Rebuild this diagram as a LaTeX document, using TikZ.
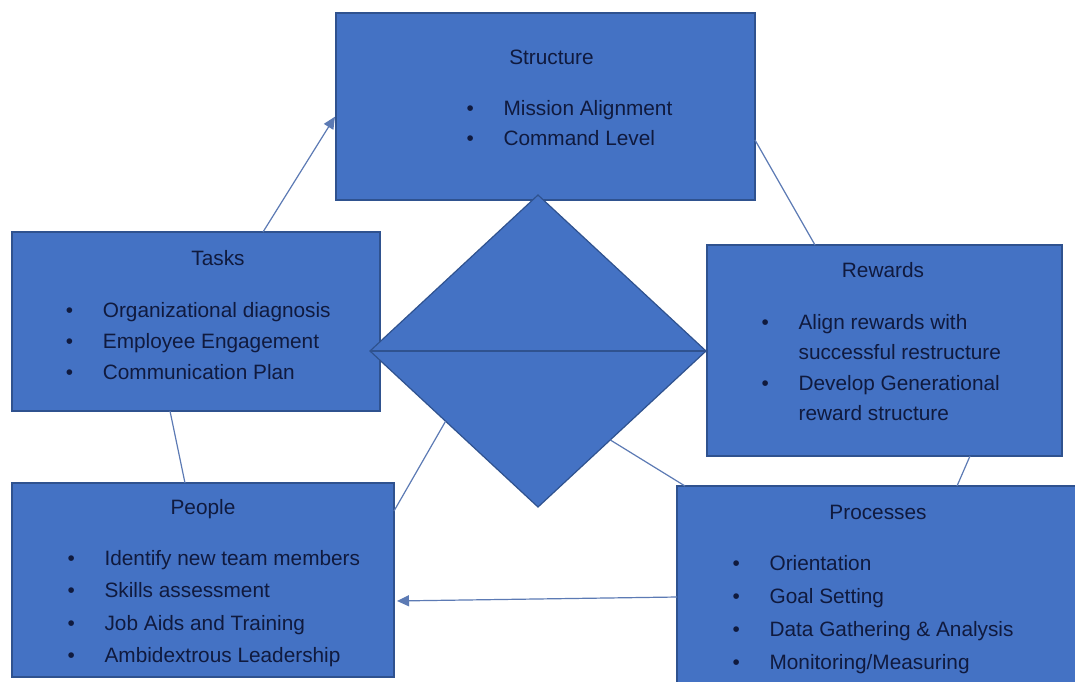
\documentclass[tikz,border=0pt]{standalone}
\usepackage{fontspec}
\setmainfont{Liberation Sans}
\usetikzlibrary{shapes.geometric, calc, arrows.meta}
\definecolor{boxfill}{RGB}{68, 114, 196}
\definecolor{boxedge}{RGB}{47, 82, 143}
\definecolor{inktext}{RGB}{16, 26, 62}
\definecolor{linkline}{RGB}{92, 122, 180}
\newcommand{\itembul}{\makebox[37pt][l]{\textbullet}}
\newcommand{\itemind}{\hspace*{37pt}}

\begin{document}
\begin{tikzpicture}[
	x=1pt, y=-1pt,
	>=Stealth,
	% Styles for the blocks, their texts and the links
	block/.style={draw=boxedge, line width=1.2pt, fill=boxfill, inner sep=0pt, outer sep=0pt},
	headtext/.style={text=inktext, font=\fontsize{20.8pt}{25pt}\selectfont, inner sep=0pt, anchor=base},
	itemtext/.style={text=inktext, font=\fontsize{20.8pt}{#1}\selectfont, inner sep=0pt, anchor=north west, align=left},
	itemtext/.default=31pt,
	link/.style={draw=linkline, line width=1.2pt},
	linkarrow/.style={link, -{Triangle[length=12pt, width=11pt]}}
	]
	
	% Canvas: 1075 x 1075 px, y grows downwards
	\useasboundingbox (0,0) rectangle (1075,681);
	\fill[white] (0,0) rectangle (1075,681);
	\clip (0,0) rectangle (1075,681);
	
	% ==========================================
	% 1. BLOCKS
	% ==========================================
	\node[block, minimum width=419pt, minimum height=187pt] (struct) at (545.5,106.5) {};
	\node[block, minimum width=368pt, minimum height=179pt] (tasks) at (196,321.5) {};
	\node[block, minimum width=355pt, minimum height=211pt] (rewards) at (884.5,350.5) {};
	\node[block, minimum width=382pt, minimum height=194pt] (people) at (203,580) {};
	% Processes runs off the right and bottom edges
	\node[block, minimum width=408pt, minimum height=214pt] (process) at (881,593) {};
	
	% Central diamond split in two halves
	\node[block, diamond, minimum width=336pt, minimum height=312pt] (core) at (538,351) {};
	\draw[draw=boxedge, line width=1.2pt] (core.west) -- (core.east);
	
	% ==========================================
	% 2. TEXTS
	% ==========================================
	\node[headtext] (structhead) at (551.5,64) {Structure};
	\node[itemtext=30pt] (structlist) at (466.4,100) {\itembul Mission Alignment\\ \itembul Command Level};
	
	\node[headtext] (taskshead) at (218,265.5) {Tasks};
	\node[itemtext=31pt] (taskslist) at (65.7,302) {\itembul Organizational diagnosis\\ \itembul Employee Engagement\\ \itembul Communication Plan};
	
	\node[headtext] (rewardshead) at (883,277.5) {Rewards};
	\node[itemtext=30.5pt] (rewardslist) at (761.4,314) {\itembul Align rewards with\\ \itemind successful restructure\\ \itembul Develop Generational\\ \itemind reward structure};
	
	\node[headtext] (peoplehead) at (203,514.5) {People};
	\node[itemtext=32.5pt] (peoplelist) at (67.4,550) {\itembul Identify new team members\\ \itembul Skills assessment\\ \itembul Job Aids and Training\\ \itembul Ambidextrous Leadership};
	
	\node[headtext] (processhead) at (878,519) {Processes};
	\node[itemtext=33pt] (processlist) at (732.4,555) {\itembul Orientation\\ \itembul Goal Setting\\ \itembul Data Gathering \& Analysis\\ \itembul Monitoring/Measuring};
	
	% ==========================================
	% 3. LINKS
	% ==========================================
	\draw[linkarrow, shorten >=2pt] ([xshift=67pt]tasks.north) -- ([yshift=-8.5pt]struct.west);
	\draw[link] ([yshift=-33.5pt]struct.east) -- ([xshift=-69.5pt]rewards.north);
	\draw[link] ([xshift=85.5pt]rewards.south) -- ([xshift=76pt]process.north);
	\draw[linkarrow, shorten >=3pt] ([yshift=-4pt]process.west) -- ([yshift=-21pt]people.east);
	\draw[link] ([xshift=-18pt]people.north) -- ([xshift=-26pt]tasks.south);
	
	% Links from the diamond to the lower blocks
	\draw[link] ($(core.west)!0.45!(core.south)$) -- ([yshift=69pt]people.east);
	\draw[link] ($(core.east)!0.57!(core.south)$) -- ([xshift=8pt]process.north west);
\end{tikzpicture}
\end{document}
